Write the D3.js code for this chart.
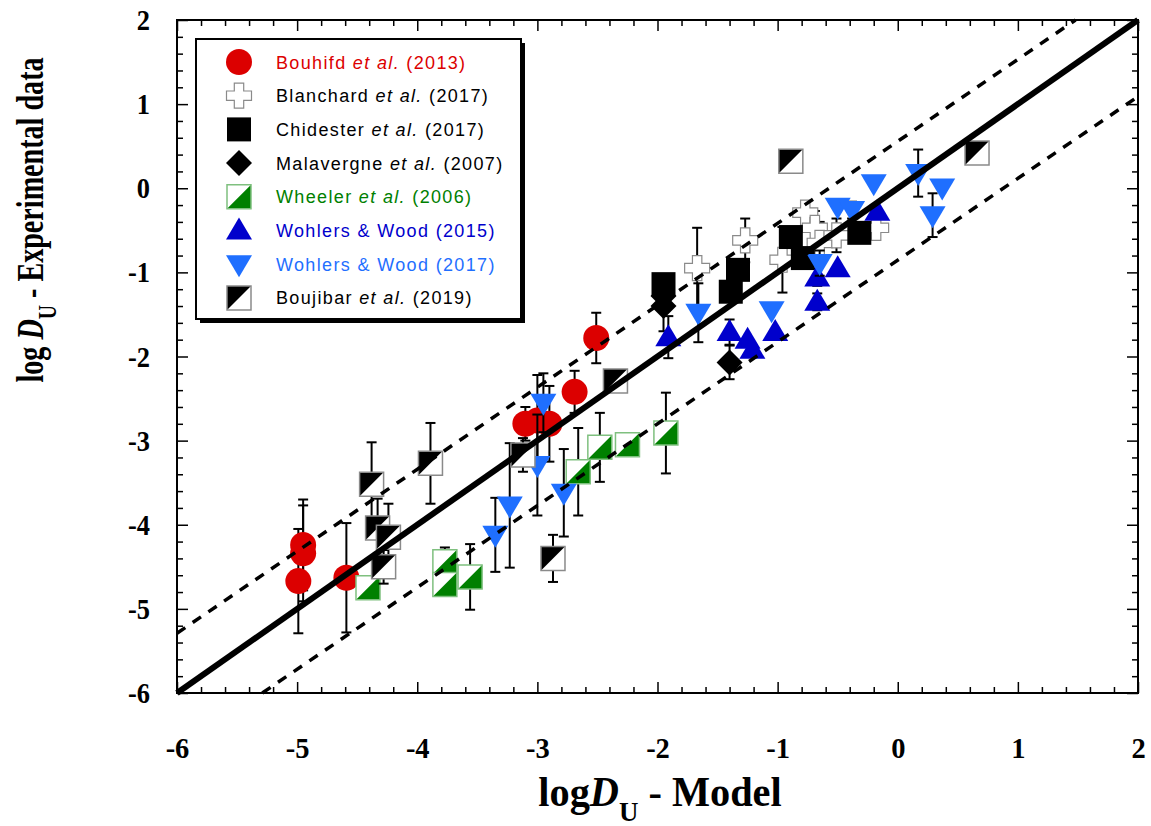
<!DOCTYPE html>
<html><head><meta charset="utf-8">
<script src="https://cdn.jsdelivr.net/npm/d3@7"></script>
<style>body{margin:0;background:#fff} svg{display:block}</style>
</head><body>
<svg id="c" width="1151" height="826"></svg>
<script>
// ---- data: [logD model, logD experimental, error] ----
const bouhifd = [[-4.95,-4.24,0.54],[-4.95,-4.34,0.57],[-4.99,-4.67,0.62],[-4.59,-4.63,0.65],[-2.51,-1.78,0.30],[-2.69,-2.42,0.25],[-3.10,-2.80,0.20],[-3.00,-2.76,0.54],[-2.90,-2.80,0.45]];
const blanchard = [[-1.67,-0.95,0.48],[-1.27,-0.62,0.26],[-0.96,-0.85,0.39],[-0.77,-0.29,0],[-0.69,-0.47,0.2],[-0.65,-0.65,0.25],[-0.51,-0.56,0.2],[-0.18,-0.47,0]];
const chidester = [[-1.95,-1.14,0],[-1.33,-0.97,0],[-1.39,-1.23,0],[-0.89,-0.58,0],[-0.79,-0.83,0],[-0.32,-0.53,0]];
const malavergne = [[-1.95,-1.28,0],[-1.95,-1.40,0.3],[-1.40,-2.07,0.2]];
const wheeler = [[-4.41,-4.75,0],[-3.77,-4.44,0.17],[-3.77,-4.71,0],[-3.56,-4.62,0.39],[-2.66,-3.37,0.52],[-2.48,-3.08,0.41],[-2.25,-3.05,0],[-1.93,-2.91,0.48]];
const wohlers2015 = [[-1.91,-1.77,0.25],[-1.40,-1.71,0.15],[-1.25,-1.80,0],[-1.21,-1.92,0],[-1.02,-1.71,0],[-0.67,-1.35,0.1],[-0.67,-1.06,0.1],[-0.50,-0.95,0],[-0.17,-0.28,0]];
const wohlers2017 = [[-3.35,-4.12,0.44],[-3.23,-3.77,0.74],[-3.00,-3.29,0.6],[-2.95,-2.55,0.35],[-2.78,-3.62,0.52],[-1.66,-1.48,0.35],[-1.05,-1.45,0],[-0.65,-0.89,0.15],[-0.50,-0.22,0],[-0.38,-0.26,0.1],[-0.20,0.06,0],[0.17,0.18,0.28],[0.37,0.01,0],[0.29,-0.32,0.26]];
const boujibar = [[-4.38,-3.52,0.5],[-3.89,-3.27,0.48],[-4.33,-4.04,0.35],[-4.24,-4.15,0.4],[-4.28,-4.50,0.2],[-3.12,-3.17,0.2],[-2.35,-2.29,0],[-2.87,-4.40,0.28],[-0.89,0.32,0],[0.66,0.42,0]];
const oneToOne = [[-6,-6],[2,2]];
const upperBound = [[-6,-5.29],[1.48,2]];
const lowerBound = [[-5.29,-6],[2,1.09]];
const xTickValues = [-6,-5,-4,-3,-2,-1,0,1,2];
const yTickValues = [-6,-5,-4,-3,-2,-1,0,1,2];
const legendNames = [
  ["Bouhifd ","et al.", " (2013)"],
  ["Blanchard ","et al.", " (2017)"],
  ["Chidester ","et al.", " (2017)"],
  ["Malavergne ","et al.", " (2007)"],
  ["Wheeler ","et al.", " (2006)"],
  ["Wohlers & Wood (2015)","",""],
  ["Wohlers & Wood (2017)","",""],
  ["Boujibar ","et al.", " (2019)"]
];

const svg = d3.select("#c");
const x = d3.scaleLinear().domain([-6,2]).range([177,1138]);
const y = d3.scaleLinear().domain([-6,2]).range([693,20]);
const minorX = d3.range(-6,2.001,0.2).map(v=>+v.toFixed(1)).filter(v=>Math.abs(v-Math.round(v))>1e-6);
const minorY = minorX;

function condense(sel, f){ sel.each(function(){ const n=this; const L=n.getComputedTextLength(); n.setAttribute("textLength", L*f); n.setAttribute("lengthAdjust","spacingAndGlyphs"); }); }

// axes (ticks inward on all sides)
function axisGroup(axis, tf){ return svg.append("g").attr("transform",tf).call(axis); }
const fontTick = "'Liberation Serif','Times New Roman',serif";
const gb = axisGroup(d3.axisBottom(x).tickValues(xTickValues).tickSize(-11).tickPadding(44).tickFormat(d3.format("d")), `translate(0,${y(-6)})`);
const gl = axisGroup(d3.axisLeft(y).tickValues(yTickValues).tickSize(-11).tickPadding(27).tickFormat(d3.format("d")), `translate(${x(-6)},0)`);
axisGroup(d3.axisTop(x).tickValues(xTickValues).tickSize(-11).tickFormat(""), `translate(0,${y(2)})`);
axisGroup(d3.axisRight(y).tickValues(yTickValues).tickSize(-11).tickFormat(""), `translate(${x(2)},0)`);
axisGroup(d3.axisBottom(x).tickValues(minorX).tickSize(-6).tickFormat(""), `translate(0,${y(-6)})`);
axisGroup(d3.axisTop(x).tickValues(minorX).tickSize(-6).tickFormat(""), `translate(0,${y(2)})`);
axisGroup(d3.axisLeft(y).tickValues(minorY).tickSize(-6).tickFormat(""), `translate(${x(-6)},0)`);
axisGroup(d3.axisRight(y).tickValues(minorY).tickSize(-6).tickFormat(""), `translate(${x(2)},0)`);
svg.selectAll(".domain").remove();
svg.selectAll(".tick line").attr("stroke","#000").attr("stroke-width",1.5);
svg.selectAll(".tick text").attr("font-family",fontTick).attr("font-weight","bold").attr("font-size",30).attr("fill","#000");
gb.selectAll(".tick text").text(d=>d<0?"-"+Math.abs(d):d);
gl.selectAll(".tick text").text(d=>d<0?"-"+Math.abs(d):d);
condense(gb.selectAll(".tick text"),0.95);
condense(gl.selectAll(".tick text"),0.88);

// markers
const S = 12; // half size
function symbolPath(type){
  switch(type){
    case "cross": { const a=S+0.5, b=4.7; return `M${-b},${-a}H${b}V${-b}H${a}V${b}H${b}V${a}H${-b}V${b}H${-a}V${-b}H${-b}Z`; }
    case "square": return `M${-S},${-S}H${S}V${S}H${-S}Z`;
    case "diamond": return `M0,${-13}L13,0L0,13L-13,0Z`;
    case "up": return `M0,${-13}L13,9L-13,9Z`;
    case "down": return `M0,13L13,-9L-13,-9Z`;
  }
}
function drawMarker(g, type, cx, cy){
  const m = g.append("g").attr("transform",`translate(${cx},${cy})`);
  if(type==="circle") m.append("circle").attr("r",13).attr("fill","#dc0000");
  else if(type==="cross") m.append("path").attr("d",symbolPath("cross")).attr("fill","#fff").attr("stroke","#8a8a8a").attr("stroke-width",1.2);
  else if(type==="square") m.append("path").attr("d",symbolPath("square")).attr("fill","#000");
  else if(type==="diamond") m.append("path").attr("d",symbolPath("diamond")).attr("fill","#000");
  else if(type==="up") m.append("path").attr("d",symbolPath("up")).attr("fill","#0000cc");
  else if(type==="down") m.append("path").attr("d",symbolPath("down")).attr("fill","#1f6fff");
  else if(type==="wheeler"){
    m.append("path").attr("d",symbolPath("square")).attr("fill","#fff");
    m.append("path").attr("d",`M${S},${-S}L${S},${S}L${-S},${S}Z`).attr("fill","#008000");
    m.append("path").attr("d",symbolPath("square")).attr("fill","none").attr("stroke","#7fc07f").attr("stroke-width",1.5);
  } else if(type==="boujibar"){
    m.append("path").attr("d",symbolPath("square")).attr("fill","#fff");
    m.append("path").attr("d",`M${-S},${-S}L${S},${-S}L${-S},${S}Z`).attr("fill","#000");
    m.append("path").attr("d",symbolPath("square")).attr("fill","none").attr("stroke","#8a8a8a").attr("stroke-width",1.5);
  }
}
const series = [
  [bouhifd,"circle"],[blanchard,"cross"],[chidester,"square"],[malavergne,"diamond"],
  [wheeler,"wheeler"],[wohlers2015,"up"],[wohlers2017,"down"],[boujibar,"boujibar"]
];
const plot = svg.append("g");
series.forEach(([data,type])=>{
  const g = plot.append("g");
  data.filter(d=>d[2]>0).forEach(d=>{
    const cx=x(d[0]), y1=y(d[1]-d[2]), y2=y(d[1]+d[2]);
    g.append("line").attr("x1",cx).attr("x2",cx).attr("y1",y1).attr("y2",y2).attr("stroke","#000").attr("stroke-width",2);
    [y1,y2].forEach(yy=>g.append("line").attr("x1",cx-5).attr("x2",cx+5).attr("y1",yy).attr("y2",yy).attr("stroke","#000").attr("stroke-width",2));
  });
  data.forEach(d=>drawMarker(g,type,x(d[0]),y(d[1])));
});

// reference lines
const line = d3.line().x(d=>x(d[0])).y(d=>y(d[1]));
svg.append("path").attr("d",line(upperBound)).attr("stroke","#000").attr("stroke-width",3.5).attr("stroke-dasharray","10,9").attr("fill","none");
svg.append("path").attr("d",line(lowerBound)).attr("stroke","#000").attr("stroke-width",3.5).attr("stroke-dasharray","10,9").attr("fill","none");
svg.append("path").attr("d",line(oneToOne)).attr("stroke","#000").attr("stroke-width",6).attr("fill","none");

// frame
svg.append("rect").attr("x",x(-6)).attr("y",y(2)).attr("width",x(2)-x(-6)).attr("height",y(-6)-y(2)).attr("fill","none").attr("stroke","#000").attr("stroke-width",2);

// legend
const lg = svg.append("g");
lg.append("rect").attr("x",200).attr("y",43).attr("width",325).attr("height",280).attr("fill","#000");
lg.append("rect").attr("x",196).attr("y",39).attr("width",325).attr("height",280).attr("fill","#fff").attr("stroke","#000").attr("stroke-width",2);
const legendColors = ["#dc0000","#000","#000","#000","#008000","#0000cc","#1f6fff","#000"];
series.forEach(([data,type],i)=>{
  const cy = 62 + i*33.7;
  drawMarker(lg,type,239,cy);
  const t = lg.append("text").attr("x",276).attr("y",cy+6.5).attr("font-family","'Liberation Sans',Arial,sans-serif").attr("font-size",18).attr("letter-spacing","1.35px").attr("fill",legendColors[i]);
  t.append("tspan").text(legendNames[i][0]);
  if(legendNames[i][1]) t.append("tspan").attr("font-style","italic").text(legendNames[i][1]);
  if(legendNames[i][2]) t.append("tspan").text(legendNames[i][2]);
});

// axis titles
const xt = svg.append("text").attr("transform","translate(660,806) scale(0.96,1)").attr("text-anchor","middle").attr("font-family",fontTick).attr("font-weight","bold").attr("font-size",42);
xt.append("tspan").text("log");
xt.append("tspan").attr("font-style","italic").text("D");
xt.append("tspan").attr("dy",15).attr("font-size",28).text("U");
xt.append("tspan").attr("dy",-15).text(" - Model");

const yt = svg.append("text").attr("transform","translate(43,220) rotate(-90) scale(0.76,1)").attr("text-anchor","middle").attr("font-family",fontTick).attr("font-weight","bold").attr("font-size",37);
yt.append("tspan").text("log ");
yt.append("tspan").attr("font-style","italic").text("D");
yt.append("tspan").attr("dy",13).attr("font-size",26).text("U");
yt.append("tspan").attr("dy",-13).text(" - Experimental data");
</script>
</body></html>
